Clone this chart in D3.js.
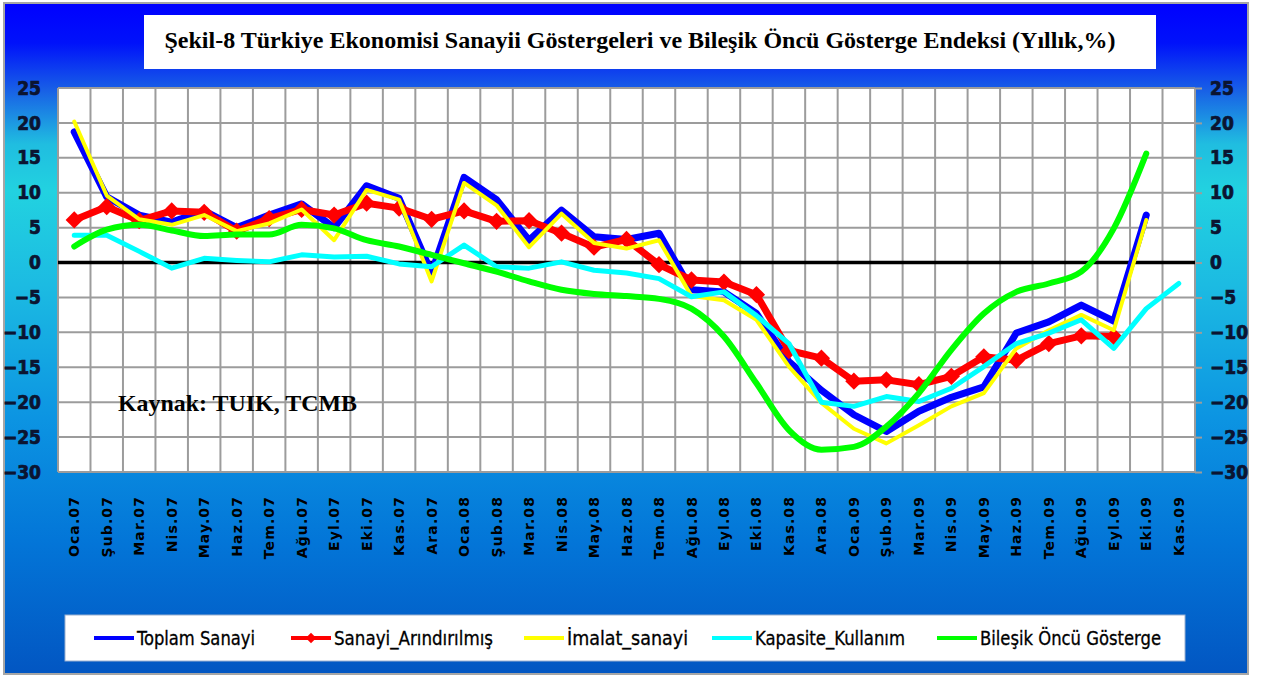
<!DOCTYPE html>
<html>
<head>
<meta charset="utf-8">
<script src="https://cdn.jsdelivr.net/npm/d3@7"></script>
<style>
  body { margin: 0; background: #ffffff; }
  svg { display: block; }
</style>
</head>
<body>
<div id="chart"></div>
<script>
// data (yillik %)
var categories = ["Oca.07","Şub.07","Mar.07","Nis.07","May.07","Haz.07","Tem.07","Ağu.07","Eyl.07","Eki.07","Kas.07","Ara.07",
  "Oca.08","Şub.08","Mar.08","Nis.08","May.08","Haz.08","Tem.08","Ağu.08","Eyl.08","Eki.08","Kas.08","Ara.08",
  "Oca.09","Şub.09","Mar.09","Nis.09","May.09","Haz.09","Tem.09","Ağu.09","Eyl.09","Eki.09","Kas.09"];

var toplamSanayi = [18.7, 9.4, 6.8, 5.8, 7.4, 5.0, 6.8, 8.4, 5.0, 11.0, 9.2, -1.5,
  12.2, 9.0, 3.2, 7.5, 3.7, 3.3, 4.2, -3.9, -4.2, -7.3, -14.2, -18.3,
  -21.8, -24.2, -21.3, -19.3, -17.8, -10.1, -8.5, -6.1, -8.4, 6.8, null];

var sanayiArindirilmis = [6.1, 8.0, 6.0, 7.4, 7.2, 4.5, 6.3, 7.6, 6.8, 8.5, 7.8, 6.2,
  7.4, 5.9, 6.0, 4.2, 2.2, 3.3, -0.3, -2.5, -2.8, -4.6, -12.6, -13.7,
  -17.0, -16.8, -17.5, -16.3, -13.5, -14.0, -11.6, -10.5, -10.6, null, null];

var imalatSanayi = [20.2, 9.6, 6.2, 5.4, 6.8, 4.5, 5.6, 7.6, 3.2, 10.4, 9.0, -2.7,
  11.4, 8.2, 2.2, 7.0, 2.8, 2.0, 3.2, -4.8, -5.4, -8.2, -14.9, -20.1,
  -23.8, -25.9, -23.3, -20.6, -18.7, -12.3, -9.7, -7.5, -9.7, 6.1, null];

var kapasiteKullanim = [3.9, 3.9, 1.6, -0.8, 0.6, 0.3, 0.1, 1.1, 0.8, 0.9, -0.2, -0.6,
  2.5, -0.6, -0.8, 0.1, -1.1, -1.5, -2.3, -4.9, -4.2, -7.6, -11.6, -20.0,
  -20.6, -19.2, -19.9, -18.0, -14.9, -11.6, -10.1, -8.2, -12.3, -6.6, -3.0];

var bilesikOncu = [2.3, 4.7, 5.4, 4.6, 3.8, 4.0, 4.0, 5.4, 4.9, 3.2, 2.3, 1.1,
  -0.1, -1.3, -2.7, -3.9, -4.5, -4.8, -5.2, -6.6, -10.6, -17.3, -24.0, -26.8,
  -26.4, -23.5, -18.7, -12.5, -7.3, -4.2, -3.0, -1.3, 4.9, 15.6, null];

var yTicks = [-30, -25, -20, -15, -10, -5, 0, 5, 10, 15, 20, 25];

var seriesNames = ["Toplam Sanayi", "Sanayi_Arındırılmış", "İmalat_sanayi", "Kapasite_Kullanım", "Bileşik Öncü Gösterge"];

// setup
var W = 1263, H = 676;
var plot = {left: 58, right: 1195, top: 88, bottom: 472};
var axisFont = "'Liberation Sans Narrow', 'DejaVu Sans Condensed', 'Roboto', sans-serif";

var svg = d3.select("#chart").append("svg")
    .attr("width", W)
    .attr("height", H);

// background gradient
var defs = svg.append("defs");
var grad = defs.append("linearGradient")
    .attr("id", "bg")
    .attr("x1", 0).attr("y1", 0).attr("x2", 0).attr("y2", 1);
[[0, "#0000ff"], [0.06, "#0012fa"], [0.13, "#1860e6"], [0.21, "#20bde0"], [0.28, "#22d2e0"],
 [0.42, "#1cbbe2"], [0.62, "#0c94e2"], [0.8, "#0376d8"], [1, "#0256c2"]].forEach(function(s) {
    grad.append("stop").attr("offset", s[0]).attr("stop-color", s[1]);
});

svg.append("rect")
    .attr("x", 4).attr("y", 3)
    .attr("width", 1244).attr("height", 671)
    .style("fill", "url(#bg)")
    .style("stroke", "#a6a6a6")
    .style("stroke-width", 2);

// title box
svg.append("rect")
    .attr("x", 144).attr("y", 15)
    .attr("width", 1012).attr("height", 54)
    .style("fill", "#ffffff");

var title = svg.append("text")
    .attr("x", 640).attr("y", 48)
    .attr("text-anchor", "middle")
    .style("font-family", "'Liberation Serif', 'Times New Roman', serif")
    .style("font-weight", "bold")
    .style("font-size", "22px")
    .style("fill", "#000")
    .text("Şekil-8 Türkiye Ekonomisi Sanayii Göstergeleri ve Bileşik Öncü Gösterge Endeksi (Yıllık,%)");
var tw = title.node().getComputedTextLength();
title.style("font-size", (22 * 951 / tw) + "px");

// scales
var x = d3.scaleBand()
    .domain(categories)
    .range([plot.left, plot.right]);

var y = d3.scaleLinear()
    .domain([-30, 25])
    .range([plot.bottom, plot.top]);

// plot area
svg.append("rect")
    .attr("x", plot.left).attr("y", plot.top)
    .attr("width", plot.right - plot.left)
    .attr("height", plot.bottom - plot.top)
    .style("fill", "#ffffff");

// vertical grid on category borders
var borders = categories.map(function(c) { return x(c); }).concat([plot.right]);
svg.append("g").selectAll("line")
    .data(borders)
    .enter().append("line")
    .attr("x1", function(d) { return d; })
    .attr("x2", function(d) { return d; })
    .attr("y1", plot.top)
    .attr("y2", plot.bottom)
    .style("stroke", "#9c9c9c")
    .style("stroke-width", 2);

// horizontal grid
svg.append("g").selectAll("line")
    .data(yTicks)
    .enter().append("line")
    .attr("x1", plot.left)
    .attr("x2", plot.right)
    .attr("y1", function(d) { return y(d); })
    .attr("y2", function(d) { return y(d); })
    .style("stroke", function(d) { return d === 0 ? "#000000" : "#9c9c9c"; })
    .style("stroke-width", function(d) { return d === 0 ? 3.5 : 2; });

// axes
var leftAxis = svg.append("g")
    .attr("transform", "translate(" + plot.left + ",0)")
    .call(d3.axisLeft(y).tickValues(yTicks).tickSize(0).tickPadding(17));

var rightAxis = svg.append("g")
    .attr("transform", "translate(" + plot.right + ",0)")
    .call(d3.axisRight(y).tickValues(yTicks).tickSize(7).tickPadding(8));

[leftAxis, rightAxis].forEach(function(a) {
    a.select(".domain").remove();
    a.selectAll(".tick line").style("stroke", "#9c9c9c").style("stroke-width", 2);
    a.selectAll("text")
        .style("font-family", axisFont)
        .style("font-weight", "bold")
        .style("font-size", "19px")
        .style("fill", "#0b1431")
        .style("stroke", "#0b1431")
        .style("stroke-width", 0.7);
});

var xAxis = svg.append("g")
    .attr("transform", "translate(0," + plot.bottom + ")")
    .call(d3.axisBottom(x).tickSize(0));
xAxis.select(".domain").remove();
xAxis.selectAll("text")
    .attr("transform", "rotate(-90)")
    .attr("x", -24)
    .attr("y", 0)
    .attr("dy", "0.36em")
    .attr("text-anchor", "end")
    .style("font-family", "'DejaVu Sans', Verdana, sans-serif")
    .style("font-weight", "bold")
    .style("font-size", "14px")
    .style("letter-spacing", "1.1px")
    .style("fill", "#000");

// lines
var cx = function(d, i) { return x(categories[i]) + x.bandwidth() / 2; };
var line = d3.line()
    .defined(function(d) { return d !== null; })
    .x(cx)
    .y(function(d) { return y(d); });
var smooth = d3.line()
    .defined(function(d) { return d !== null; })
    .x(cx)
    .y(function(d) { return y(d); })
    .curve(d3.curveMonotoneX);

var series = [
    {values: toplamSanayi, color: "#0000ff", width: 7, gen: line},
    {values: sanayiArindirilmis, color: "#ff0000", width: 7, gen: line, marker: true},
    {values: imalatSanayi, color: "#ffff00", width: 4, gen: line},
    {values: kapasiteKullanim, color: "#00ffff", width: 5, gen: line},
    {values: bilesikOncu, color: "#00ff00", width: 6, gen: smooth}
];

var diamond = d3.symbol().type(d3.symbolDiamond2).size(190);

series.forEach(function(s) {
    svg.append("path")
        .datum(s.values)
        .attr("d", s.gen)
        .style("fill", "none")
        .style("stroke", s.color)
        .style("stroke-width", s.width)
        .style("stroke-linejoin", "round")
        .style("stroke-linecap", "round");
    if (s.marker) {
        svg.append("g").selectAll("path")
            .data(s.values.map(function(v, i) { return {v: v, i: i}; }).filter(function(d) { return d.v !== null; }))
            .enter().append("path")
            .attr("d", diamond)
            .attr("transform", function(d) { return "translate(" + cx(d.v, d.i) + "," + y(d.v) + ")"; })
            .style("fill", s.color);
    }
});

// source note
svg.append("text")
    .attr("x", 118).attr("y", 411)
    .attr("textLength", 239)
    .attr("lengthAdjust", "spacingAndGlyphs")
    .style("font-family", "'Liberation Serif', 'Times New Roman', serif")
    .style("font-weight", "bold")
    .style("font-size", "23px")
    .style("fill", "#000")
    .text("Kaynak: TUIK, TCMB");

// legend
svg.append("rect")
    .attr("x", 65).attr("y", 615)
    .attr("width", 1120).attr("height", 46)
    .style("fill", "#ffffff")
    .style("stroke", "#9ab0d0")
    .style("stroke-width", 1);

var legendX = [94, 291, 524, 712, 937];
var legendW = [118, 159, 121, 150, 181];
var lg = svg.append("g").selectAll("g")
    .data(series)
    .enter().append("g")
    .attr("transform", function(d, i) { return "translate(" + legendX[i] + ",638)"; });

lg.append("line")
    .attr("x1", 0).attr("x2", 40)
    .style("stroke", function(d) { return d.color; })
    .style("stroke-width", 4);

lg.filter(function(d) { return d.marker; }).append("path")
    .attr("d", d3.symbol().type(d3.symbolDiamond2).size(70))
    .attr("transform", "translate(20,0)")
    .style("fill", function(d) { return d.color; });

lg.append("text")
    .attr("x", 43).attr("y", 7)
    .attr("textLength", function(d, i) { return legendW[i]; })
    .attr("lengthAdjust", "spacingAndGlyphs")
    .style("font-family", axisFont)
    .style("font-size", "20px")
    .style("fill", "#000")
    .style("stroke", "#000")
    .style("stroke-width", 0.3)
    .text(function(d, i) { return seriesNames[i]; });
</script>
</body>
</html>
